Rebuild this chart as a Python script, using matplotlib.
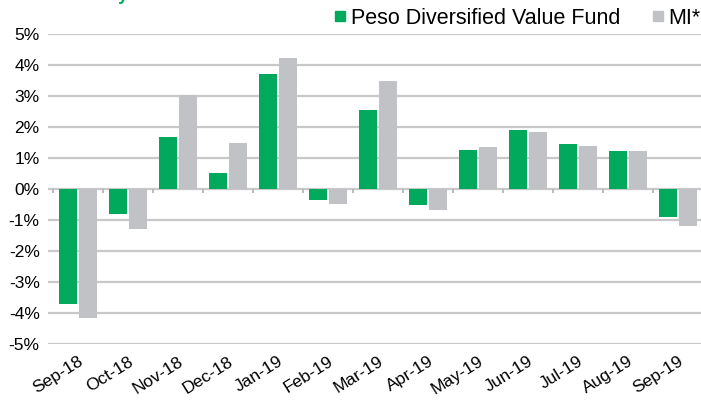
import numpy as np
import matplotlib.pyplot as plt
from matplotlib.lines import Line2D

plt.rcParams['font.family'] = ['Liberation Sans', 'DejaVu Sans']

# monthly returns (%)
months = ['Sep-18', 'Oct-18', 'Nov-18', 'Dec-18', 'Jan-19', 'Feb-19', 'Mar-19',
          'Apr-19', 'May-19', 'Jun-19', 'Jul-19', 'Aug-19', 'Sep-19']
fund = [-3.72, -0.80, 1.68, 0.52, 3.72, -0.34, 2.55, -0.50, 1.26, 1.90, 1.45, 1.23, -0.89]
index_mi = [-4.17, -1.29, 3.04, 1.47, 4.24, -0.47, 3.48, -0.67, 1.35, 1.84, 1.39, 1.23, -1.18]
yticks = [-5, -4, -3, -2, -1, 0, 1, 2, 3, 4, 5]

green = '#00a95c'
grey = '#c1c2c5'
grid_c = '#c8c8c8'

fig = plt.figure(figsize=(7.01, 4.0), dpi=100)
ax = fig.add_axes([48 / 701, 56 / 400, 655 / 701, 310 / 400])

x = np.arange(len(months))
ax.bar(x - 0.2, fund, width=0.36, color=green, zorder=3)
ax.bar(x + 0.2, index_mi, width=0.36, color=grey, zorder=3)

ax.set_ylim(-5, 5)
ax.set_xlim(-0.6, len(months) - 0.5)
ax.set_yticks(yticks)
ax.set_yticklabels([f'{v}%' for v in yticks], fontsize=12.5)
for v in yticks:
    ax.axhline(v, color=grid_c, lw=1.6, zorder=1)

# small category separators under the zero line
ax.vlines(np.arange(len(months)) - 0.5, 0, -0.13, color='#b5b5b5', lw=1.3, zorder=2)

ax.set_xticks(x)
ax.set_xticklabels(months, rotation=32, ha='right', rotation_mode='anchor', fontsize=12.5)
ax.tick_params(axis='both', length=0, pad=6)
ax.tick_params(axis='x', pad=7)
for s in ax.spines.values():
    s.set_visible(False)

handles = [Line2D([], [], marker='s', ls='', color=green, markersize=7.5),
           Line2D([], [], marker='s', ls='', color=grey, markersize=7.5)]
fig.legend(handles, ['Peso Diversified Value Fund', 'MI*'], ncol=2, frameon=False,
           loc='center right', bbox_to_anchor=(1.027, 0.955), fontsize=15.5,
           handletextpad=0.0, columnspacing=1.25, handlelength=1.0)

fig.text(129 / 701, 1.0, 'Monthly', color=green, fontsize=13, fontweight='bold',
         ha='right', va='baseline')

fig.savefig('out.png', dpi=100)
